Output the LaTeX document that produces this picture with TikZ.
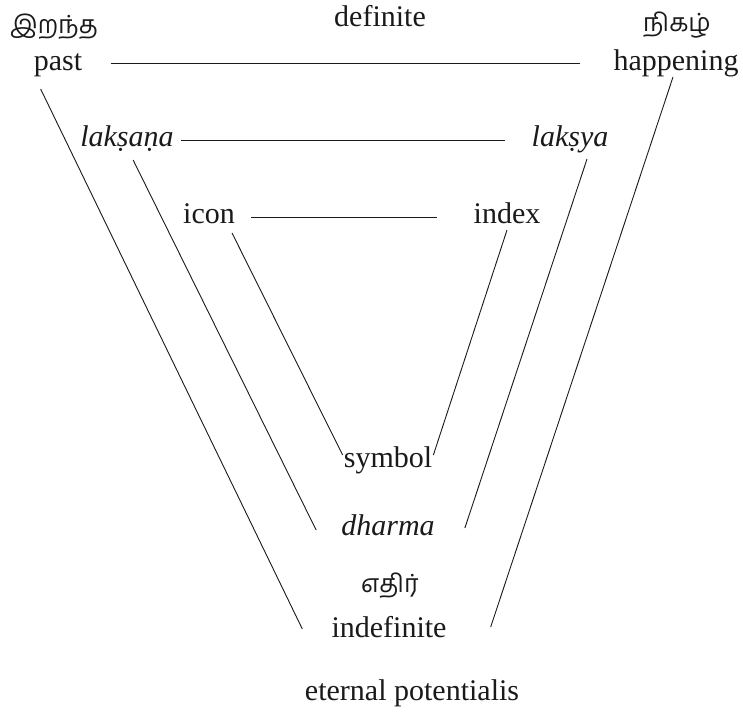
\documentclass[tikz,border=0pt]{standalone}
\usepackage{fontspec}
\setmainfont{Liberation Serif}
\newfontfamily\tamil[Script=Tamil]{Hind Madurai}
\definecolor{ink}{HTML}{1A1A1A}
\tikzset{
  every node/.style={text=ink,inner sep=0pt},
  word/.style={font=\fontsize{30}{34}\selectfont,anchor=base},
  skt/.style={word,font=\itshape\fontsize{30}{34}\selectfont},
  tam/.style={font=\tamil\fontsize{25}{28}\selectfont,anchor=center},
  rule/.style={draw=ink,line width=0.9pt},
}

\begin{document}
\begin{tikzpicture}[x=1pt,y=-1pt]
\useasboundingbox[fill=white] (0,0) rectangle (743,715);

% --- top row
\node[tam] (iranta) at (54,27) {இறந்த};
\node[word] (past) at (58,70) {past};
\node[word] (definite) at (380,26) {definite};
\node[tam] (nikal) at (677,25) {நிகழ்};
\node[word] (happ) at (676,70) {happening};

% --- middle rows
\node[skt] (laksana) at (127,146) {lakṣaṇa};
\node[skt] (laksya) at (570,146) {lakṣya};
\node[word] (icon) at (209,223) {icon};
\node[word] (index) at (507,223) {index};

% --- bottom
\node[word] (symbol) at (388,467) {symbol};
\node[skt] (dharma) at (388,535) {dharma};
\node[tam] (etir) at (390,586) {எதிர்};
\node[word] (indef) at (389,637) {indefinite};
\node[word] (eternal) at (412,700) {eternal potentialis};

% --- horizontals
\draw[rule] ([shift={(29,-7)}]past.base east) -- ([shift={(-33,-7)}]happ.base west);
\draw[rule] ([shift={(7,-6)}]laksana.base east) -- ([shift={(-26,-6)}]laksya.base west);
\draw[rule] ([shift={(16,-6)}]icon.base east) -- ([shift={(-36,-6)}]index.base west);

% --- diagonals down to the bottom terms
\draw[rule] ([shift={(7,19)}]past.base west) -- ([shift={(-29,-8)}]indef.base west);
\draw[rule] ([shift={(-3,7)}]happ.base) -- ([shift={(44,-10)}]indef.base east);
\draw[rule] ([shift={(53,14)}]laksana.base west) -- ([shift={(-25,-5)}]dharma.base west);
\draw[rule] ([shift={(17,13)}]laksya.base) -- ([shift={(30,-7)}]dharma.base east);
\draw[rule] ([shift={(-3,10)}]icon.base east) -- ([shift={(-1,-12)}]symbol.base west);
\draw[rule] ([shift={(0,7)}]index.base) -- ([shift={(1,-12)}]symbol.base east);

\end{tikzpicture}
\end{document}
